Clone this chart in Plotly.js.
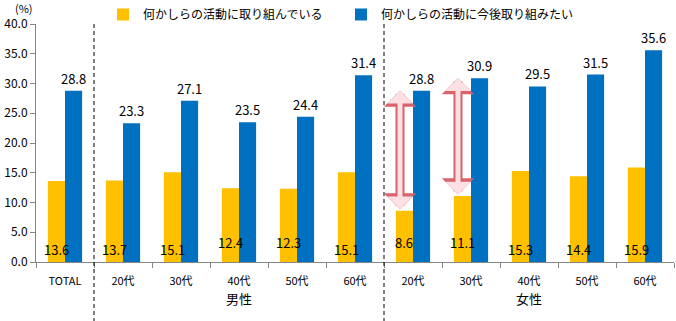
<!DOCTYPE html>
<html><head><meta charset="utf-8">
<script src="https://cdn.plot.ly/plotly-3.0.1.min.js"></script>
<style>body{margin:0;background:#fff}#c{width:676px;height:321px}</style>
</head><body><div id="c"></div>
<script>
const categoryIds = ['TOTAL','男性20代','男性30代','男性40代','男性50代','男性60代','女性20代','女性30代','女性40代','女性50代','女性60代'];
const tickLabels = ['TOTAL','20代','30代','40代','50代','60代','20代','30代','40代','50代','60代'];
const seriesNames = ['何かしらの活動に取り組んでいる','何かしらの活動に今後取り組みたい'];
const doingNow = [13.6,13.7,15.1,12.4,12.3,15.1,8.6,11.1,15.3,14.4,15.9];
const wantToDo = [28.8,23.3,27.1,23.5,24.4,31.4,28.8,30.9,29.5,31.5,35.6];
const groupLabels = [{name:'男性', at:'男性40代'},{name:'女性', at:'女性40代'}];
const gapArrows = ['女性20代','女性30代'];

const font = 'Noto Sans CJK JP, Noto Sans, sans-serif';
const traces = [
  {type:'bar', name:seriesNames[0], x:categoryIds, y:doingNow, marker:{color:'#FFC000'}, hoverinfo:'none'},
  {type:'bar', name:seriesNames[1], x:categoryIds, y:wantToDo, marker:{color:'#0070C0'},
   text:wantToDo.map(v=>v.toFixed(1)), textposition:'outside', cliponaxis:false, constraintext:'none',
   textfont:{family:font,size:13,color:'#000'}, hoverinfo:'none'}
];
const annotations = [];
categoryIds.forEach((c,i)=>{
  const v = doingNow[i];
  annotations.push({x:c, y:0, xref:'x', yref:'y', text:v.toFixed(1), showarrow:false,
    xanchor:'center', yanchor:'bottom', xshift:-9, yshift:(v<13?8:1), font:{family:font,size:13,color:'#000'}});
});
groupLabels.forEach(g=>annotations.push({x:g.at, y:-0.155, xref:'x', yref:'paper', text:g.name, showarrow:false,
  yanchor:'middle', font:{family:font,size:13,color:'#000'}}));
annotations.push({x:0, y:1, xref:'paper', yref:'paper', text:'(%)', showarrow:false, xanchor:'center', yanchor:'bottom',
  xshift:-12, yshift:6, font:{family:font,size:11,color:'#000'}});
gapArrows.forEach(c=>{
  const i = categoryIds.indexOf(c);
  const lo = doingNow[i], hi = wantToDo[i];
  [{w:9,col:'#D9626B',s:0.6},{w:5,col:'#FCE0E3',s:0.85}].forEach(st=>{
    annotations.push({x:i, y:hi, ax:i, ay:lo, xref:'x', yref:'y', axref:'x', ayref:'y', text:'',
      showarrow:true, arrowhead:1, startarrowhead:1, arrowside:'end+start', arrowsize:st.s, startarrowsize:st.s,
      arrowwidth:st.w, arrowcolor:st.col, xshift:-13, standoff:0, startstandoff:0});
  });
});
const shapes = [0.5,5.5].map(x=>({type:'line', xref:'x', yref:'paper', x0:x, x1:x, y0:1, y1:-0.26,
  line:{color:'#000', width:1, dash:'4px,3px'}}));
const layout = {
  width:676, height:321, margin:{l:36,r:2,t:24,b:59, autoexpand:false},
  paper_bgcolor:'#fff', plot_bgcolor:'#fff',
  barmode:'group', bargap:0.41, bargroupgap:0,
  font:{family:font, size:11, color:'#000'},
  showlegend:true,
  legend:{orientation:'h', x:0.105, y:1.04, xanchor:'left', yanchor:'middle', entrywidth:193, entrywidthmode:'pixels',
    font:{family:font,size:12,color:'#000'}, itemwidth:30, traceorder:'normal', bgcolor:'rgba(0,0,0,0)'},
  xaxis:{type:'category', tickmode:'array', tickvals:categoryIds, ticktext:tickLabels, tickson:'boundaries',
    ticks:'outside', ticklen:5, tickcolor:'#868686', showline:true, linecolor:'#868686', showgrid:false,
    ticklabelstandoff:9, tickfont:{family:font,size:11,color:'#000'}, fixedrange:true},
  yaxis:{range:[0,40], dtick:5, tickformat:'.1f', ticks:'outside', ticklen:5, tickcolor:'#868686',
    showline:true, linecolor:'#868686', showgrid:false, zeroline:false,
    tickfont:{family:font,size:12,color:'#000'}, fixedrange:true},
  annotations:annotations, shapes:shapes
};
Plotly.newPlot('c', traces, layout, {staticPlot:true});
</script></body></html>
